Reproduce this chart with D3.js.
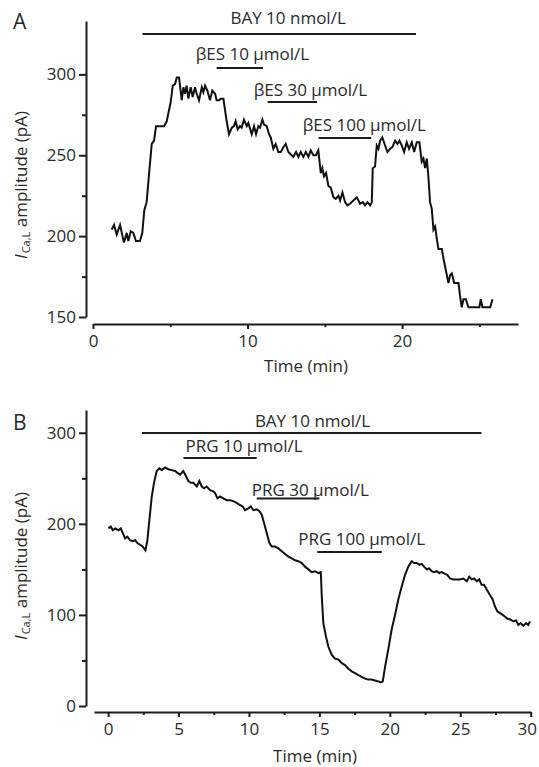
<!DOCTYPE html>
<html>
<head>
<meta charset="utf-8">
<script src="https://cdnjs.cloudflare.com/ajax/libs/d3/7.8.5/d3.min.js"></script>
<style>
    body { margin: 0; background: #fff; }
    svg text { font-family: "Open Sans", sans-serif; fill: #2a2a2a; }
</style>
</head>
<body>
<div id="chart"></div>
<script>
// panel A trace (time in min, amplitude in pA)
var timeA = [1.21, 1.36, 1.53, 1.75, 2.0, 2.18, 2.29, 2.44, 2.61, 2.78, 3.04, 3.19, 3.32, 3.47, 3.65, 3.8, 3.95, 4.08, 4.6, 4.77,
    5.03, 5.16, 5.31, 5.42, 5.57, 5.74, 5.85, 5.95, 6.06, 6.17, 6.32, 6.45, 6.6, 6.71, 6.86, 7.04, 7.14, 7.25, 7.4, 7.57,
    7.72, 7.9, 8.0, 8.17, 8.26, 8.44, 8.54, 8.65, 8.8, 8.98, 9.13, 9.23, 9.36, 9.51, 9.62, 9.77, 9.95, 10.05, 10.27, 10.42,
    10.55, 10.7, 10.81, 10.96, 11.07, 11.24, 11.39, 11.5, 11.67, 11.82, 11.99, 12.15, 12.32, 12.47, 12.64, 12.96, 13.14, 13.29, 13.44, 13.61,
    13.77, 13.94, 14.09, 14.26, 14.43, 14.58, 14.74, 14.84, 14.95, 15.08, 15.23, 15.38, 15.56, 15.71, 15.88, 15.99, 16.14, 16.31, 16.46, 16.63,
    16.85, 17.07, 17.28, 17.46, 17.6, 17.76, 17.93, 18.04, 18.1, 18.25, 18.36, 18.47, 18.58, 18.72, 18.9, 19.05, 19.22, 19.37, 19.55, 19.7,
    19.83, 19.98, 20.13, 20.3, 20.45, 20.63, 20.78, 20.95, 21.12, 21.27, 21.38, 21.49, 21.6, 21.7, 21.81, 21.92, 22.03, 22.14, 22.25, 22.35,
    22.57, 22.68, 22.85, 23.0, 23.11, 23.22, 23.37, 23.65, 23.75, 23.86, 23.97, 24.13, 24.29, 25.0, 25.09, 25.2, 25.7, 25.85];
var ampA = [204, 207, 201, 207, 196, 202, 197, 203, 202, 197, 197, 202, 216, 221, 241, 257, 259, 268, 268, 271,
    283, 293, 294, 298, 298, 284, 292, 288, 293, 285, 292, 286, 292, 288, 284, 292, 289, 293, 290, 284,
    290, 288, 284, 284, 285, 285, 278, 271, 263, 267, 268, 271, 266, 268, 267, 272, 268, 270, 263, 268,
    263, 268, 267, 272, 269, 268, 263, 261, 254, 257, 252, 252, 255, 257, 252, 249, 252, 249, 252, 249,
    252, 249, 253, 250, 250, 253, 239, 242, 237, 239, 231, 230, 224, 223, 225, 222, 227, 221, 219, 220,
    222, 224, 220, 221, 219, 221, 219, 221, 242, 243, 256, 254, 259, 261, 256, 252, 254, 255, 259, 257,
    259, 256, 252, 258, 254, 258, 252, 258, 258, 246, 248, 242, 248, 237, 221, 217, 204, 206, 198, 192,
    192, 186, 178, 171, 176, 177, 171, 171, 163, 156, 161, 161, 156, 156, 161, 156, 156, 161];

// panel B trace
var timeB = [0.02, 0.19, 0.33, 0.5, 0.73, 0.9, 1.04, 1.21, 1.37, 1.56, 1.72, 1.92, 2.08, 2.27, 2.46, 2.65, 2.79, 2.93, 3.1, 3.26,
    3.45, 3.64, 3.81, 4.05, 4.28, 4.52, 4.76, 4.92, 5.11, 5.34, 5.54, 5.7, 5.87, 6.06, 6.3, 6.48, 6.65, 6.81, 7.0, 7.24,
    7.43, 7.59, 7.76, 7.95, 8.18, 8.42, 8.66, 8.89, 9.13, 9.32, 9.56, 9.72, 9.96, 10.13, 10.31, 10.55, 10.74, 10.91, 11.07, 11.26,
    11.45, 11.62, 11.85, 12.09, 12.33, 12.56, 12.8, 13.04, 13.27, 13.5, 13.75, 13.98, 14.22, 14.45, 14.69, 14.93, 15.1, 15.17, 15.28, 15.47,
    15.64, 15.88, 16.11, 16.35, 16.59, 16.82, 17.06, 17.3, 17.53, 17.77, 18.0, 18.24, 18.47, 18.71, 18.95, 19.18, 19.35, 19.5, 19.66, 19.9,
    20.13, 20.37, 20.6, 20.84, 21.08, 21.31, 21.55, 21.72, 21.91, 22.1, 22.26, 22.43, 22.62, 22.8, 22.97, 23.14, 23.33, 23.51, 23.68, 23.92,
    24.08, 24.27, 24.51, 24.75, 24.98, 25.22, 25.46, 25.64, 25.81, 25.98, 26.17, 26.35, 26.51, 26.69, 26.88, 27.11, 27.3, 27.47, 27.63, 27.82,
    28.01, 28.18, 28.34, 28.53, 28.77, 28.96, 29.12, 29.29, 29.48, 29.67, 29.83, 29.95];
var ampB = [195, 197, 193, 195, 193, 195, 190, 184, 186, 182, 181, 182, 179, 177, 175, 171, 182, 204, 230, 245,
    258, 261, 259, 262, 260, 259, 258, 256, 254, 258, 252, 247, 245, 245, 241, 247, 241, 239, 241, 237,
    236, 234, 228, 230, 228, 226, 226, 225, 223, 221, 219, 215, 217, 219, 215, 216, 214, 210, 201, 190,
    179, 175, 175, 173, 170, 167, 164, 162, 160, 159, 157, 153, 150, 147, 148, 146, 147, 120, 91, 76,
    65, 56, 52, 51, 47, 45, 41, 38, 36, 34, 32, 30, 29, 29, 28, 27, 26, 27, 43, 63,
    84, 100, 117, 131, 144, 153, 159, 157, 157, 155, 156, 153, 150, 151, 148, 147, 148, 146, 147, 145,
    144, 140, 139, 139, 139, 140, 137, 142, 139, 140, 137, 139, 133, 133, 128, 122, 117, 109, 104, 102,
    100, 98, 96, 95, 93, 94, 89, 91, 88, 91, 89, 93];

// drug applications
var drugsA = ["BAY 10 nmol/L", "βES 10 μmol/L", "βES 30 μmol/L", "βES 100 μmol/L"];
var onA = [3.2, 8.0, 11.3, 14.6];
var offA = [20.9, 11.0, 14.5, 18.0];

var drugsB = ["BAY 10 nmol/L", "PRG 10 μmol/L", "PRG 30 μmol/L", "PRG 100 μmol/L"];
var onB = [2.4, 5.35, 10.55, 14.85];
var offB = [26.5, 10.55, 15.0, 19.43];

// ticks
var xTicksA = [0, 10, 20];
var xMinorA = [5, 15, 25];
var yTicksA = [150, 200, 250, 300];
var yMinorA = [175, 225, 275];

var xTicksB = [0, 5, 10, 15, 20, 25, 30];
var xMinorB = [2.5, 7.5, 12.5, 17.5, 22.5, 27.5];
var yTicksB = [0, 100, 200, 300];
var yMinorB = [50, 150, 250];

var width = 539;
var height = 767;
var ink = "#1c1c1c";

var svg = d3.select("#chart")
    .append("svg")
    .attr("width", width)
    .attr("height", height);

function drawPanel(p) {
    var x = d3.scaleLinear().domain(p.xDomain).range(p.xRange);
    var y = d3.scaleLinear().domain(p.yDomain).range(p.yRange);

    var g = svg.append("g");

    // minor ticks first, then major ticks with labels
    g.append("g")
        .attr("transform", "translate(0," + p.xAxisY + ")")
        .call(d3.axisBottom(x).tickValues(p.xMinor).tickSize(3).tickFormat(""))
        .call(function(s) { s.select(".domain").remove(); });

    var gx = g.append("g")
        .attr("transform", "translate(0," + p.xAxisY + ")")
        .call(d3.axisBottom(x).tickValues(p.xTicks).tickSize(5).tickSizeOuter(0).tickPadding(6).tickFormat(d3.format("d")));

    g.append("g")
        .attr("transform", "translate(" + p.yAxisX + ",0)")
        .call(d3.axisLeft(y).tickValues(p.yMinor).tickSize(4).tickFormat(""))
        .call(function(s) { s.select(".domain").remove(); });

    g.append("g")
        .attr("transform", "translate(" + p.yAxisX + ",0)")
        .call(d3.axisLeft(y).tickValues(p.yTicks).tickSize(7).tickSizeOuter(0).tickPadding(3).tickFormat(d3.format("d")));

    g.selectAll(".domain, .tick line")
        .attr("stroke", ink)
        .attr("stroke-width", 2);
    g.selectAll(".tick text")
        .attr("font-size", 17)
        .attr("font-family", "Open Sans, sans-serif")
        .attr("fill", "#2a2a2a");

    // last label sits against the right edge
    gx.selectAll(".tick text")
        .filter(function(d) { return d === p.xDomain[1]; })
        .attr("dx", -4);

    // trace
    var line = d3.line()
        .x(function(d) { return x(d[0]); })
        .y(function(d) { return y(d[1]); });

    g.append("path")
        .datum(d3.zip(p.time, p.amp))
        .attr("d", line)
        .attr("fill", "none")
        .attr("stroke", "#111")
        .attr("stroke-width", 2)
        .attr("stroke-linejoin", "miter");

    // drug bars
    var drugs = p.drugs.map(function(name, i) {
        return { name: name, on: p.on[i], off: p.off[i], barY: p.barY[i], labelDx: p.labelDx[i], labelY: p.labelY[i] };
    });

    g.selectAll("line.bar")
        .data(drugs)
        .enter()
        .append("line")
        .attr("class", "bar")
        .attr("x1", function(d) { return x(d.on); })
        .attr("x2", function(d) { return x(d.off); })
        .attr("y1", function(d) { return d.barY; })
        .attr("y2", function(d) { return d.barY; })
        .attr("stroke", ink)
        .attr("stroke-width", 2);

    g.selectAll("text.drug")
        .data(drugs)
        .enter()
        .append("text")
        .attr("class", "drug")
        .attr("x", function(d) { return x(d.on) + d.labelDx; })
        .attr("y", function(d) { return d.labelY; })
        .attr("font-size", 17)
        .text(function(d) { return d.name; });

    // axis titles
    g.append("text")
        .attr("x", p.xTitleX)
        .attr("y", p.xTitleY)
        .attr("text-anchor", "middle")
        .attr("font-size", 17)
        .text("Time (min)");

    var yt = g.append("text")
        .attr("transform", "translate(27," + p.yTitleMid + ") rotate(-90)")
        .attr("text-anchor", "middle")
        .attr("font-size", 17);
    yt.append("tspan").attr("font-style", "italic").text("I");
    yt.append("tspan").attr("font-size", 11).attr("dy", 3).attr("dx", 1).text("Ca,L");
    yt.append("tspan").attr("dy", -3).text(" amplitude (pA)");

    g.append("text")
        .attr("x", 13)
        .attr("y", p.letterY)
        .attr("font-size", 21)
        .text(p.letter);
}

drawPanel({
    letter: "A", letterY: 29,
    time: timeA, amp: ampA,
    xDomain: [0, 27.5], xRange: [93, 518],
    yDomain: [150, 333], yRange: [317, 21],
    xAxisY: 324, yAxisX: 86,
    xTicks: xTicksA, xMinor: xMinorA, yTicks: yTicksA, yMinor: yMinorA,
    xTitleX: 306, xTitleY: 372, yTitleMid: 185,
    drugs: drugsA, on: onA, off: offA,
    barY: [34, 68, 102, 138],
    labelDx: [88, -21, -14, -16],
    labelY: [24, 60, 96, 131]
});

drawPanel({
    letter: "B", letterY: 430,
    time: timeB, amp: ampB,
    xDomain: [-1, 30], xRange: [94, 530.7],
    yDomain: [0, 325], yRange: [706, 410],
    xAxisY: 712, yAxisX: 86,
    xTicks: xTicksB, xMinor: xMinorB, yTicks: yTicksB, yMinor: yMinorB,
    xTitleX: 315, xTitleY: 762, yTitleMid: 566,
    drugs: drugsB, on: onB, off: offB,
    barY: [433, 458, 498.5, 552],
    labelDx: [113, 2, -5, -19],
    labelY: [427, 452, 495.5, 545]
});
</script>
</body>
</html>
